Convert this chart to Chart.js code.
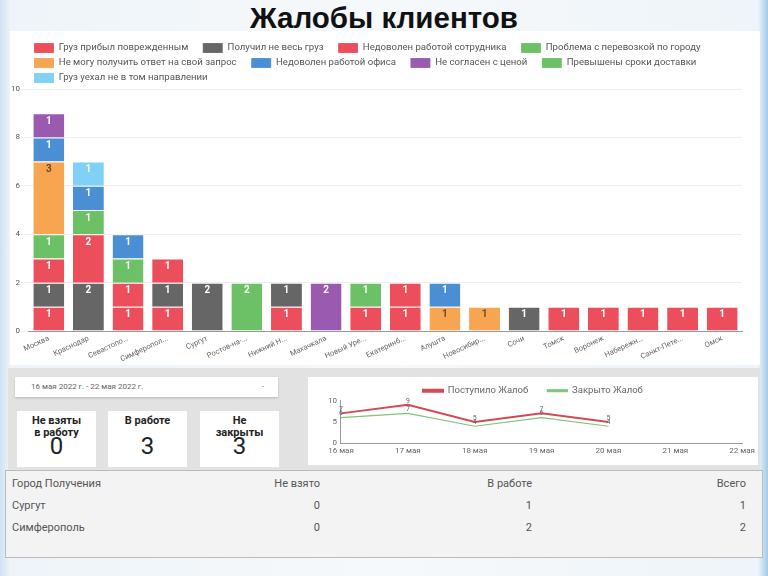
<!DOCTYPE html>
<html lang="ru">
<head>
<meta charset="UTF-8">
<title>Жалобы клиентов</title>
<script src="https://cdn.jsdelivr.net/npm/chart.js"></script>
<style>
  body { margin:0; width:768px; height:576px; overflow:hidden; position:relative;
    font-family: Roboto, "Liberation Sans", sans-serif;
    background: linear-gradient(to right, #cfe2f2 0px, #eef4f9 10px, #f6f9fb 50%, #eef4f9 758px, #9fcbea 768px); }
  .title { position:absolute; left:0; top:1px; width:768px; text-align:center;
    font-family: "Liberation Sans Narrow", "Liberation Sans", sans-serif; font-weight:bold; font-size:29.5px; line-height:34px; color:#111; }
  .panel { position:absolute; background:#fff; }
  .gray { position:absolute; left:8px; top:368px; width:752px; height:102px; background:#e2e2e2; }
  .date { position:absolute; left:15px; top:377px; width:263px; height:20px; background:#fff;
    box-shadow:0 1px 2px rgba(0,0,0,.2); font-size:8px; color:#666; line-height:20px; }
  .date span { position:absolute; left:16px; }
  .date b { position:absolute; right:14px; font-weight:normal; }
  .kpi { position:absolute; top:411px; width:79px; height:56px; background:#fff; text-align:center; color:#222; }
  .kpi .t { font-weight:bold; font-size:11px; line-height:12px; margin-top:4px; }
  .kpi .v { font-size:24px; line-height:24px; position:absolute; left:0; right:0; bottom:9px; }
  .table { position:absolute; left:5px; top:470px; width:756px; height:86px; background:#f3f3f3;
    border:1px solid #bbb; font-family:"Liberation Sans Narrow", Roboto, sans-serif; font-size:11px; color:#555; }
  .row { position:absolute; left:0; width:756px; height:20px; line-height:20px; }
  .row div { position:absolute; }
</style>
</head>
<body>
<div class="title">Жалобы клиентов</div>
<div class="panel" style="left:10px; top:31px; width:750px; height:334px;">
  <canvas id="bars"></canvas>
</div>
<div class="gray"></div>
<div class="date"><span id="period"></span><b>-</b></div>
<div id="kpis"></div>
<div class="panel" style="left:308px; top:377px; width:450px; height:88px;">
  <canvas id="trend"></canvas>
</div>
<div class="table" id="tbl"></div>

<script>
// --- данные ---
const cities = ['Москва', 'Краснодар', 'Севастопо...', 'Симферопол...', 'Сургут', 'Ростов-на-...',
  'Нижний Н...', 'Махачкала', 'Новый Уре...', 'Екатеринб...', 'Алушта', 'Новосибир...',
  'Сочи', 'Томск', 'Воронеж', 'Набережн...', 'Санкт-Пете...', 'Омск'];

const gruzPovrezhden = [1, 0, 1, 1, 0, 0, 1, 0, 1, 1, 0, 0, 0, 1, 1, 1, 1, 1];
const neVesGruz      = [1, 2, 0, 1, 2, 0, 1, 0, 0, 0, 0, 0, 1, 0, 0, 0, 0, 0];
const sotrudnik      = [1, 2, 1, 1, 0, 0, 0, 0, 0, 1, 0, 0, 0, 0, 0, 0, 0, 0];
const perevozka      = [1, 1, 1, 0, 0, 0, 0, 0, 1, 0, 0, 0, 0, 0, 0, 0, 0, 0];
const netOtveta      = [3, 0, 0, 0, 0, 0, 0, 0, 0, 0, 1, 1, 0, 0, 0, 0, 0, 0];
const ofis           = [1, 1, 1, 0, 0, 0, 0, 0, 0, 0, 1, 0, 0, 0, 0, 0, 0, 0];
const cena           = [1, 0, 0, 0, 0, 0, 0, 2, 0, 0, 0, 0, 0, 0, 0, 0, 0, 0];
const sroki          = [0, 0, 0, 0, 0, 2, 0, 0, 0, 0, 0, 0, 0, 0, 0, 0, 0, 0];
const napravlenie    = [0, 1, 0, 0, 0, 0, 0, 0, 0, 0, 0, 0, 0, 0, 0, 0, 0, 0];

const dias = ['16 мая', '17 мая', '18 мая', '19 мая', '20 мая', '21 мая', '22 мая'];
const postupilo = [7, 9, 5, 7, 5, null, null];
const zakryto   = [6, 7, 4, 6, 4, null, null];

const kpiNames  = ['Не взяты<br>в работу', 'В работе', 'Не<br>закрыты'];
const kpiValues = [0, 3, 3];

const tblHeader = ['Город Получения', 'Не взято', 'В работе', 'Всего'];
const tblCities = ['Сургут', 'Симферополь'];
const tblNeVzyato = [0, 0];
const tblVRabote  = [1, 2];
const tblVsego    = [1, 2];

document.getElementById('period').textContent = '16 мая 2022 г. - 22 мая 2022 г.';

// KPI
const kpiLeft = [17, 108, 200];
document.getElementById('kpis').innerHTML = kpiNames.map((n, i) =>
  `<div class="kpi" style="left:${kpiLeft[i]}px"><div class="t">${n}</div><div class="v">${kpiValues[i]}</div></div>`).join('');

// таблица
const colX = [6, 314, 526, 740];
function linha(cells, top) {
  return `<div class="row" style="top:${top}px">` + cells.map((c, i) =>
    i === 0 ? `<div style="left:${colX[0]}px">${c}</div>` : `<div style="right:${756 - colX[i]}px">${c}</div>`
  ).join('') + '</div>';
}
let html = linha(tblHeader, 3);
tblCities.forEach((c, i) => { html += linha([c, tblNeVzyato[i], tblVRabote[i], tblVsego[i]], 25 + i * 22); });
document.getElementById('tbl').innerHTML = html;

// подписи на столбцах
const barLabels = {
  id: 'barLabels',
  afterDatasetsDraw(chart) {
    const ctx = chart.ctx;
    ctx.save();
    ctx.font = 'bold 10px Roboto, sans-serif';
    ctx.textAlign = 'center';
    ctx.textBaseline = 'middle';
    chart.data.datasets.forEach((ds, di) => {
      chart.getDatasetMeta(di).data.forEach((bar, i) => {
        const v = ds.data[i];
        if (!v) return;
        ctx.fillStyle = ds.labelColor || '#fff';
        ctx.fillText(v, bar.x, bar.y + 8);
      });
    });
    ctx.restore();
  }
};

// legenda um pouco mais baixa (menos espaço embaixo)
function tightLegend(cut) {
  return {
    id: 'tightLegend',
    beforeLayout(chart) {
      const lg = chart.legend;
      if (!lg || lg._tight) return;
      const fit = lg.fit;
      lg.fit = function () { fit.call(this); this.height -= cut; };
      lg._tight = true;
    }
  };
}

const RED = '#ec4f5b', GRAY = '#666666', GREEN = '#6cc166', ORANGE = '#f7a550',
      BLUE = '#4a8fd3', PURPLE = '#9a5ab0', LBLUE = '#7fd2f6';

function ds(label, data, color, labelColor) {
  return { label, data, backgroundColor: color, labelColor,
    borderColor: 'rgba(255,255,255,0.6)', borderWidth: { top: 1 } };
}

// legenda com mais espaço entre itens
function spacedLabels(extra) {
  return chart => Chart.defaults.plugins.legend.labels.generateLabels(chart)
    .map(l => Object.assign(l, { text: l.text + extra }));
}

Chart.defaults.font.family = 'Roboto, sans-serif';

new Chart(document.getElementById('bars'), {
  type: 'bar',
  data: {
    labels: cities,
    datasets: [
      ds('Груз прибыл поврежденным', gruzPovrezhden, RED),
      ds('Получил не весь груз', neVesGruz, GRAY),
      ds('Недоволен работой сотрудника', sotrudnik, RED),
      ds('Проблема с перевозкой по городу', perevozka, GREEN),
      ds('Не могу получить ответ на свой запрос', netOtveta, ORANGE, '#6b4a25'),
      ds('Недоволен работой офиса', ofis, BLUE),
      ds('Не согласен с ценой', cena, PURPLE),
      ds('Превышены сроки доставки', sroki, GREEN),
      ds('Груз уехал не в том направлении', napravlenie, LBLUE)
    ]
  },
  options: {
    responsive: true, maintainAspectRatio: false, animation: false,
    layout: { padding: { left: 0, right: 18, top: 7, bottom: 4 } },
    datasets: { bar: { barPercentage: 0.78, categoryPercentage: 1 } },
    plugins: {
      legend: { position: 'top', align: 'start', fullSize: false,
        labels: { boxWidth: 20, boxHeight: 10, padding: 5, color: '#555', font: { size: 9.6 },
          generateLabels: spacedLabels('    ') } },
      tooltip: { enabled: false }
    },
    scales: {
      x: { stacked: true, grid: { display: false, drawTicks: false }, border: { color: '#999' },
        ticks: { color: '#666', font: { size: 7.5 }, maxRotation: 25, minRotation: 25, autoSkip: false, padding: 3 },
        afterFit(scale) { scale.height -= 6; } },
      y: { stacked: true, min: 0, max: 10, grid: { color: '#eee' }, border: { display: false },
        ticks: { stepSize: 2, color: '#555', font: { size: 8 }, padding: 1 } }
    }
  },
  plugins: [barLabels, tightLegend(4)]
});

// маленькие значения у точек
const lineLabels = {
  id: 'lineLabels',
  afterDatasetsDraw(chart) {
    const ctx = chart.ctx;
    ctx.save();
    ctx.font = '7px Roboto, sans-serif';
    ctx.fillStyle = '#666';
    ctx.textAlign = 'center';
    chart.data.datasets.forEach((d, di) => {
      chart.getDatasetMeta(di).data.forEach((p, i) => {
        if (d.data[i] == null) return;
        ctx.fillText(d.data[i], p.x, p.y - 4);
      });
    });
    ctx.restore();
  }
};

new Chart(document.getElementById('trend'), {
  type: 'line',
  data: {
    labels: dias,
    datasets: [
      { label: 'Поступило Жалоб', data: postupilo, borderColor: '#d24a55', backgroundColor: '#d24a55',
        borderWidth: 2, pointRadius: 0, tension: 0 },
      { label: 'Закрыто Жалоб', data: zakryto, borderColor: '#7ec47b', backgroundColor: '#7ec47b',
        borderWidth: 1.2, pointRadius: 0, tension: 0 }
    ]
  },
  options: {
    responsive: true, maintainAspectRatio: false, animation: false,
    layout: { padding: { left: 16, right: 2, top: 4, bottom: 6 } },
    plugins: {
      legend: { labels: { boxWidth: 20, boxHeight: 2, padding: 5, color: '#666', font: { size: 9.5 },
        generateLabels: spacedLabels('      ') } },
      tooltip: { enabled: false }
    },
    scales: {
      x: { offset: false, grid: { display: false, drawTicks: false }, border: { color: '#999' },
        ticks: { color: '#666', font: { size: 8 }, maxRotation: 0, autoSkip: false, padding: 3 } },
      y: { min: 0, max: 10, grid: { display: false, drawTicks: false }, border: { color: '#999' },
        ticks: { stepSize: 5, color: '#666', font: { size: 8 }, padding: 4 } }
    }
  },
  plugins: [lineLabels, tightLegend(5)]
});
</script>
</body>
</html>
